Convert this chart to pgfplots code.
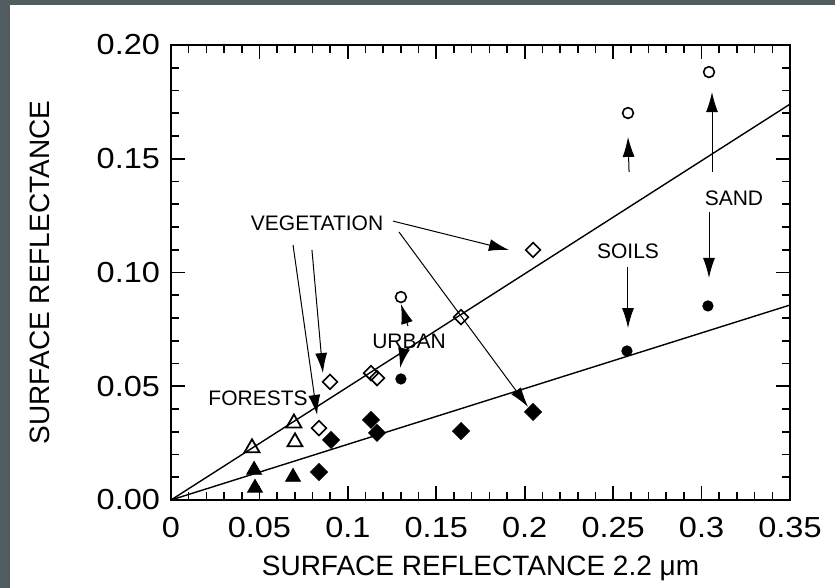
\documentclass[border=0pt]{standalone}
\usepackage{fontspec}
\setmainfont{Liberation Sans}
\newfontfamily\tickfont[FakeStretch=1.12]{Liberation Sans}
\usepackage{pgfplots}
\pgfplotsset{compat=1.18}
\usetikzlibrary{arrows.meta}
\definecolor{framegray}{RGB}{80,92,96}
\begin{document}
\begin{tikzpicture}
\fill[white] (-85.5pt,-44pt) rectangle (332pt,250pt);
\useasboundingbox (-85.5pt,-44pt) rectangle (332pt,250pt);
\fill[framegray] (-85.5pt,-44pt) rectangle (-80.5pt,250pt);
\fill[framegray] (-85.5pt,247.5pt) rectangle (332pt,250pt);
\begin{axis}[
  at={(0pt,0pt)}, anchor=south west,
  scale only axis, width=309.5pt, height=227.5pt,
  xmin=0, xmax=0.35, ymin=0, ymax=0.2,
  xtick={0,0.05,0.1,0.15,0.2,0.25,0.3,0.35},
  ytick={0,0.05,0.1,0.15,0.2},
  minor x tick num=4, minor y tick num=4,
  major tick length=7pt, minor tick length=4pt,
  axis line style={line width=1pt},
  every tick/.style={black, line width=0.8pt},
  tick label style={font=\tickfont\fontsize{14.5}{16}\selectfont},
  /pgf/number format/assume math mode=true,
  xticklabel style={/pgf/number format/fixed, /pgf/number format/precision=2, yshift=-5pt},
  yticklabel style={/pgf/number format/fixed, /pgf/number format/fixed zerofill, /pgf/number format/precision=2, xshift=-2pt},
  label style={font=\fontsize{14}{16}\selectfont},
  xlabel={SURFACE REFLECTANCE 2.2 μm},
  ylabel={SURFACE REFLECTANCE},
  xlabel style={at={(axis description cs:0.5,-0.15)}, anchor=center},
  ylabel style={at={(axis description cs:-0.212,0.5)}, anchor=center},
  clip=false,
]
% regression lines
\addplot[black, line width=0.7pt] coordinates {(0,0) (0.35,0.174)};
\addplot[black, line width=0.7pt] coordinates {(0,0) (0.35,0.0857)};
% open triangles
\addplot[only marks, mark=triangle, mark size=4.3pt, mark options={line width=0.9pt, fill=white}] coordinates {
 (0.0458,0.0229) (0.0695,0.0338) (0.0701,0.0255)};
% filled triangles
\addplot[only marks, mark=triangle*, mark size=4.3pt, mark options={fill=black}] coordinates {
 (0.047,0.0132) (0.0475,0.0053) (0.069,0.0101)};
% open diamonds
\addplot[only marks, mark=square, mark size=2.6pt, mark options={rotate=45, line width=0.8pt, fill=white}] coordinates {
 (0.0837,0.0316) (0.0899,0.0519) (0.1131,0.0558) (0.1165,0.0536) (0.164,0.0804) (0.2047,0.1099)};
% filled diamonds
\addplot[only marks, mark=square*, mark size=3pt, mark options={rotate=45, fill=black}] coordinates {
 (0.0905,0.0264) (0.0837,0.0123) (0.1131,0.0352) (0.1165,0.0295) (0.164,0.0303) (0.2047,0.0387)};
% open circles
\addplot[only marks, mark=o, mark size=2.7pt, mark options={line width=0.8pt}] coordinates {
 (0.130,0.0892) (0.2584,0.1701) (0.3042,0.1881)};
% filled circles
\addplot[only marks, mark=*, mark size=2.6pt, mark options={fill=black}] coordinates {
 (0.130,0.0532) (0.2578,0.0655) (0.3036,0.0853)};
% annotations
\tikzset{ann/.style={font=\fontsize{10.5}{12}\selectfont, inner sep=0pt},
         arr/.style={black, line width=0.5pt, -{Latex[length=10pt, width=6pt]}}}
\node[ann] at (axis cs:0.0826,0.1218) {VEGETATION};
\draw[arr] (axis cs:0.1255,0.1226) -- (axis cs:0.1911,0.1099);
\draw[arr] (axis cs:0.1289,0.1178) -- (axis cs:0.2019,0.0409);
\draw[arr] (axis cs:0.069,0.1121) -- (axis cs:0.0826,0.0374);
\draw[arr] (axis cs:0.0797,0.1099) -- (axis cs:0.0859,0.0558);
\node[ann] at (axis cs:0.1346,0.0699) {URBAN};
\draw[arr] (axis cs:0.134,0.0765) -- (axis cs:0.130,0.0862);
\draw[arr] (axis cs:0.1317,0.0664) -- (axis cs:0.1295,0.058);
\node[ann] at (axis cs:0.0492,0.0448) {FORESTS};
\node[ann] at (axis cs:0.2584,0.1095) {SOILS};
\draw[arr] (axis cs:0.259,0.1442) -- (axis cs:0.2584,0.1596);
\draw[arr] (axis cs:0.2584,0.1024) -- (axis cs:0.2584,0.0756);
\node[ann] at (axis cs:0.3183,0.1327) {SAND};
\draw[arr] (axis cs:0.3059,0.1442) -- (axis cs:0.3059,0.1793);
\draw[arr] (axis cs:0.3042,0.1266) -- (axis cs:0.3042,0.0976);
\end{axis}
\end{tikzpicture}
\end{document}
